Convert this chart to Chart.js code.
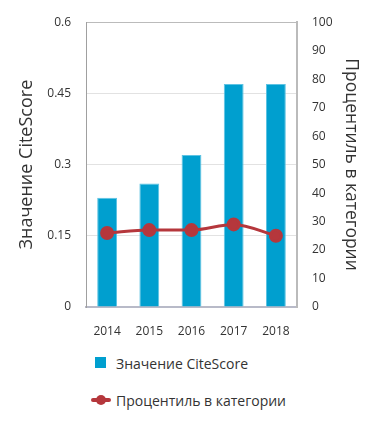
<!DOCTYPE html>
<html><head><meta charset="utf-8">
<script src="https://cdn.jsdelivr.net/npm/chart.js@4"></script>
<style>
html,body{margin:0;padding:0;background:#fff;width:377px;height:427px;overflow:hidden;font-family:"Open Sans",sans-serif;}
#wrap{position:absolute;left:0;top:0;width:377px;height:340px;}
#legend{position:absolute;left:0;top:345px;width:377px;font-size:14px;color:#333;}
.li{position:absolute;left:91px;height:20px;display:flex;align-items:center;}
.sw{width:20px;height:20px;position:relative;margin-right:5px;}
</style></head>
<body>
<div id="wrap"><canvas id="c"></canvas></div>
<div id="legend"></div>
<script>
const categories = ["2014","2015","2016","2017","2018"];
const citeScore = [0.23, 0.26, 0.32, 0.47, 0.47];
const percentile = [26, 27, 27, 29, 25];
const leftTicks = [0, 0.15, 0.3, 0.45, 0.6];
const rightTicks = [0,10,20,30,40,50,60,70,80,90,100];
const seriesNames = ["Значение CiteScore", "Процентиль в категории"];
const axisTitles = ["Значение CiteScore", "Процентиль в категории"];

const barColor = "#009FCF";
const lineColor = "#B5373C";
const FONT = '"Open Sans", sans-serif';

const chart = new Chart(document.getElementById('c'), {
  data: {
    labels: categories,
    datasets: [
      {type:'line', label: seriesNames[1], data: percentile, yAxisID:'y1',
       borderColor: lineColor, backgroundColor: lineColor, borderWidth: 3,
       pointRadius: 5.5, pointHoverRadius:5.5, tension: 0.4, cubicInterpolationMode:'monotone', order: 0},
      {type:'bar', label: seriesNames[0], data: citeScore, yAxisID:'y',
       backgroundColor: barColor, borderColor: '#5EC3E3', borderWidth: 1,
       barPercentage: 0.47, categoryPercentage: 1, order: 1}
    ]
  },
  options: {
    responsive: true, maintainAspectRatio: false, animation: false,
    devicePixelRatio: 1,
    layout: {padding: {top: 22, left: 0, right: 0, bottom: 0}},
    plugins: {legend: {display: false}, tooltip: {enabled: false}},
    scales: {
      x: {
        grid: {display: false},
        border: {display: true, color: '#B8BAC8', width: 2},
        ticks: {color: '#333', font: {family: FONT, size: 12}, padding: 9, maxRotation: 0},
        afterFit: s => { s.height = 33; }
      },
      y: {
        position: 'left', min: 0, max: 0.6,
        afterBuildTicks: s => { s.ticks = leftTicks.map(v => ({value: v})); },
        ticks: {color: '#333', font: {family: FONT, size: 12}, padding: 15,
                callback: v => String(v)},
        grid: {color: ctx => ctx.index === 0 ? 'rgba(0,0,0,0)' : (ctx.index === leftTicks.length-1 ? '#BBBBBB' : '#E2E2E2'), drawTicks: false, lineWidth: 1},
        border: {display: true, color: '#A0A0A0', width: 1},
        title: {display: true, text: axisTitles[0], color: '#333', font: {family: FONT, size: 18}, padding: {top: 16, bottom: 0}},
        afterFit: s => { s.width = 86; }
      },
      y1: {
        position: 'right', min: 0, max: 100,
        afterBuildTicks: s => { s.ticks = rightTicks.map(v => ({value: v})); },
        ticks: {color: '#333', font: {family: FONT, size: 12}, padding: 15},
        grid: {display: false, drawTicks: false},
        border: {display: true, color: '#BBBBBB', width: 2},
        title: {display: true, text: axisTitles[1], color: '#333', font: {family: FONT, size: 17.5}, padding: {top: 16, bottom: 0}},
        afterFit: s => { s.width = 80; }
      }
    }
  }
});

// HTML legend built from chart datasets
const lg = document.getElementById('legend');
const items = [chart.data.datasets[1], chart.data.datasets[0]];
items.forEach((ds, i) => {
  const d = document.createElement('div');
  d.className = 'li';
  d.style.top = (i === 0 ? 8 : 45) + 'px';
  const sw = document.createElement('div');
  sw.className = 'sw';
  if (ds.type === 'bar') {
    sw.innerHTML = '<div style="position:absolute;left:4px;top:4px;width:11px;height:11px;background:'+barColor+'"></div>';
  } else {
    sw.innerHTML = '<div style="position:absolute;left:0;top:8px;width:20px;height:4px;border-radius:2px;background:'+lineColor+'"></div><div style="position:absolute;left:5px;top:5px;width:10px;height:10px;border-radius:5px;background:'+lineColor+'"></div>';
  }
  const t = document.createElement('span');
  t.textContent = ds.label;
  d.appendChild(sw); d.appendChild(t);
  lg.appendChild(d);
});
</script>
</body></html>
